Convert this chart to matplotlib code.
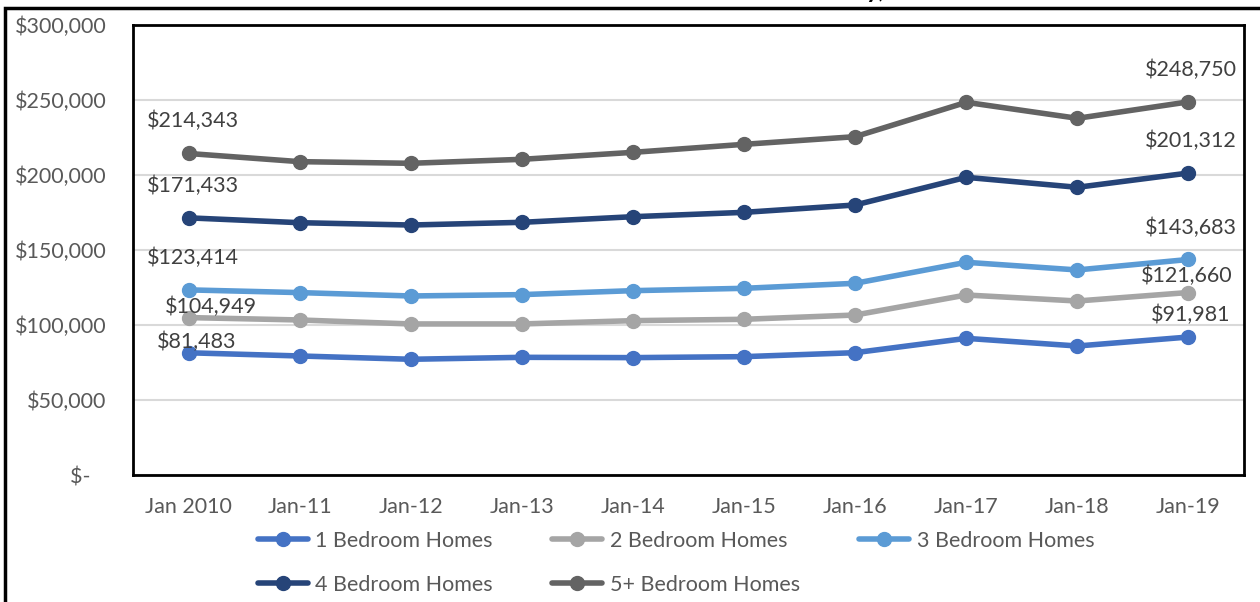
import matplotlib.pyplot as plt
from matplotlib.patches import Rectangle
from matplotlib.ticker import FuncFormatter

plt.rcParams['font.family'] = ['Lato', 'DejaVu Sans']

# Dados
periods = ['Jan 2010', 'Jan-11', 'Jan-12', 'Jan-13', 'Jan-14', 'Jan-15',
           'Jan-16', 'Jan-17', 'Jan-18', 'Jan-19']
br1 = [81483, 79350, 77150, 78450, 78250, 78900, 81550, 91100, 86000, 91981]
br2 = [104949, 103350, 100700, 100700, 102900, 103800, 106650, 120000, 116000, 121660]
br3 = [123414, 121600, 119350, 120250, 122900, 124450, 127800, 141800, 136700, 143683]
br4 = [171433, 168200, 166650, 168450, 172200, 175100, 180000, 198450, 191800, 201312]
br5 = [214343, 208900, 207800, 210450, 215100, 220450, 225550, 248450, 237800, 248750]
series_names = ['1 Bedroom Homes', '2 Bedroom Homes', '3 Bedroom Homes',
                '4 Bedroom Homes', '5+ Bedroom Homes']

colors = ['#4472C4', '#A5A5A5', '#5B9BD5', '#264478', '#636363']
# deslocamento (px) dos rótulos do primeiro e do último ponto
first_off = [(8, 11), (22, 11), (4, 32), (4, 32), (4, 33)]
last_off = [(2, 22), (-2, 17), (2, 32), (2, 32), (2, 32)]

text_color = '#595959'
fs = 15.5

fig = plt.figure(figsize=(12.6, 6.02), dpi=100)
ax = fig.add_axes([133 / 1260, 127 / 602, 1111 / 1260, 450 / 602])

x = list(range(len(periods)))
lines = []
for vals, name, c, fo, lo in zip([br1, br2, br3, br4, br5], series_names, colors,
                                  first_off, last_off):
    ln, = ax.plot(x, vals, color=c, lw=4, marker='o', ms=10, label=name,
                  solid_capstyle='round', zorder=3)
    lines.append(ln)
    for i, off in ((0, fo), (len(vals) - 1, lo)):
        ax.annotate(f'${vals[i]:,}', (x[i], vals[i]), xytext=off,
                    textcoords='offset pixels', ha='center', va='center',
                    fontsize=fs, color='#404040', zorder=4)

ax.set_xlim(-0.5, 9.5)
ax.set_ylim(0, 300000)
ax.set_yticks(range(0, 300001, 50000))
ax.yaxis.set_major_formatter(FuncFormatter(
    lambda v, p: '$-   ' if v == 0 else f'${int(v):,}'))
ax.set_xticks(x)
ax.set_xticklabels(periods)
ax.tick_params(length=0, labelsize=fs, labelcolor=text_color)
ax.tick_params(axis='y', pad=19)
ax.tick_params(axis='x', pad=16)
ax.grid(axis='y', color='#D9D9D9', lw=1.5)
ax.set_axisbelow(True)
for s in ax.spines.values():
    s.set_linewidth(2)
    s.set_color('black')

# ordem para preencher linhas: 1,2,3 / 4,5+
order = [0, 3, 1, 4, 2]
ax.legend([lines[i] for i in order], [series_names[i] for i in order],
          ncol=3, loc='center left', bbox_to_anchor=(125 / 1111, -0.195),
          frameon=False, fontsize=fs, labelcolor=text_color,
          borderpad=0, borderaxespad=0,
          handlelength=2.3, handletextpad=0.37, columnspacing=2.75,
          labelspacing=1.1)

# moldura externa e resto do título cortado
fig.patches.append(Rectangle((5 / 1260, -0.1), 1.2, 1.1 - 8 / 602,
                             transform=fig.transFigure, fill=False,
                             lw=2.5, ec='black'))
fig.text(866 / 1260, 1 + 2 / 602, 'y,', fontweight='bold', fontsize=18,
         va='baseline', ha='left')

fig.savefig('out.png', dpi=100)
